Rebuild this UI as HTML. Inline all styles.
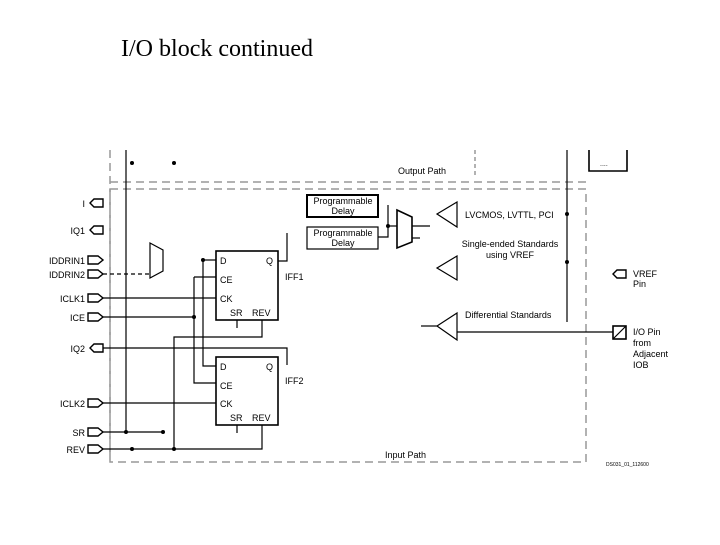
<!DOCTYPE html>
<html><head><meta charset="utf-8"><style>
body{margin:0;background:#fff;width:720px;height:540px;overflow:hidden}
</style></head><body>
<svg width="720" height="540" xmlns="http://www.w3.org/2000/svg" font-family="Liberation Sans, sans-serif">
<text x="121" y="56" font-family="Liberation Serif, serif" font-size="24" textLength="192">I/O block continued</text>
<g fill="none" stroke="#999" stroke-width="1.5" stroke-dasharray="8,5">
<line x1="110" y1="150" x2="110" y2="462"/>
<line x1="110" y1="182" x2="590" y2="182"/>
<rect x="110" y="189" width="476" height="273"/>
<line x1="475" y1="150" x2="475" y2="175" stroke-dasharray="4,3"/>
</g>
<g stroke="#000" stroke-width="1.2" fill="none">
<line x1="126" y1="150" x2="126" y2="432"/>
<line x1="98" y1="432" x2="163" y2="432"/>
<polyline points="98,449 262,449 262,425"/>
<line x1="103" y1="298" x2="216" y2="298"/>
<line x1="103" y1="317" x2="194" y2="317"/>
<line x1="103" y1="403" x2="216" y2="403"/>
<polyline points="194,277 216,277"/>
<polyline points="216,383 194,383 194,277"/>
<polyline points="203,260 203,366 216,366"/>
<line x1="203" y1="260" x2="216" y2="260"/>
<polyline points="262,320 262,337 174,337 174,449"/>
<line x1="237" y1="320" x2="237" y2="328"/>
<line x1="237" y1="425" x2="237" y2="433"/>
<polyline points="278,261 287,261 287,233"/>
<polyline points="103,348 287,348 287,365"/>
<line x1="103" y1="274" x2="150" y2="274" stroke-dasharray="4,3"/>
<polygon points="150,243 163,250 163,271 150,278"/>
<rect x="216" y="251" width="62" height="69" stroke-width="1.6"/>
<rect x="216" y="357" width="62" height="68" stroke-width="1.6"/>
<rect x="307" y="195" width="71" height="22" stroke-width="2"/>
<rect x="307" y="227" width="71" height="22"/>
<polyline points="378,237 388,237 388,205"/>
<line x1="388" y1="226" x2="397" y2="226"/>
<polygon points="397,210 412,217 412,242 397,248" stroke-width="1.6"/>
<line x1="412" y1="226" x2="430" y2="226"/>
<line x1="412" y1="238" x2="420" y2="238"/>
<polygon points="457,202 437,214 457,227"/>
<polygon points="457,256 437,268 457,280"/>
<polygon points="457,313 437,326 457,340"/>
<line x1="421" y1="326" x2="437" y2="326"/>
<line x1="457" y1="332" x2="613" y2="332"/>
<line x1="567" y1="150" x2="567" y2="322"/>
<polyline points="589,150 589,171 627,171 627,150" stroke-width="1.6"/>
<rect x="613" y="326" width="13" height="13" stroke-width="1.6"/>
<line x1="613" y1="339" x2="626" y2="326"/>
</g>
<g fill="#000">
<circle cx="132" cy="163" r="2"/><circle cx="174" cy="163" r="2"/>
<circle cx="126" cy="432" r="2"/><circle cx="163" cy="432" r="2"/>
<circle cx="132" cy="449" r="2"/><circle cx="174" cy="449" r="2"/>
<circle cx="194" cy="317" r="2"/><circle cx="203" cy="260" r="2"/>
<circle cx="388" cy="226" r="2"/>
<circle cx="567" cy="214" r="2"/><circle cx="567" cy="262" r="2"/>
</g>
<g stroke="#000" stroke-width="1.4" fill="#fff">
<polygon points="90,203 94,199 103,199 103,207 94,207"/>
<polygon points="90,230 94,226 103,226 103,234 94,234"/>
<polygon points="90,348 94,344 103,344 103,352 94,352"/>
<polygon points="613,274 617,270 626,270 626,278 617,278"/>
<polygon points="88,256 98,256 103,260 98,264 88,264"/>
<polygon points="88,270 98,270 103,274 98,278 88,278"/>
<polygon points="88,294 98,294 103,298 98,302 88,302"/>
<polygon points="88,313 98,313 103,317 98,321 88,321"/>
<polygon points="88,399 98,399 103,403 98,407 88,407"/>
<polygon points="88,428 98,428 103,432 98,436 88,436"/>
<polygon points="88,445 98,445 103,449 98,453 88,453"/>
</g>
<g font-size="9" fill="#000">
<g text-anchor="end">
<text x="85" y="207">I</text><text x="85" y="234">IQ1</text>
<text x="85" y="264">IDDRIN1</text><text x="85" y="278">IDDRIN2</text>
<text x="85" y="302">ICLK1</text><text x="85" y="321">ICE</text>
<text x="85" y="352">IQ2</text><text x="85" y="407">ICLK2</text>
<text x="85" y="436">SR</text><text x="85" y="453">REV</text>
</g>
<text x="220" y="264">D</text><text x="266" y="264">Q</text>
<text x="220" y="283">CE</text><text x="220" y="302">CK</text>
<text x="230" y="316">SR</text><text x="252" y="316">REV</text>
<text x="220" y="370">D</text><text x="266" y="370">Q</text>
<text x="220" y="389">CE</text><text x="220" y="407">CK</text>
<text x="230" y="421">SR</text><text x="252" y="421">REV</text>
<text x="285" y="280">IFF1</text><text x="285" y="384">IFF2</text>
<g text-anchor="middle">
<text x="343" y="204">Programmable</text><text x="343" y="214">Delay</text>
<text x="343" y="236">Programmable</text><text x="343" y="246">Delay</text>
<text x="510" y="247">Single-ended Standards</text>
<text x="510" y="258">using VREF</text>
</g>
<text x="465" y="218">LVCMOS, LVTTL, PCI</text>
<text x="465" y="318">Differential Standards</text>
<text x="398" y="174">Output Path</text>
<text x="385" y="458">Input Path</text>
<text x="633" y="277">VREF</text><text x="633" y="287">Pin</text>
<text x="633" y="335">I/O Pin</text><text x="633" y="346">from</text>
<text x="633" y="357">Adjacent</text><text x="633" y="368">IOB</text>
<text x="600" y="166" font-size="7">....</text>
<text x="606" y="466" font-size="5">DS031_01_112600</text>
</g>
</svg>
</body></html>
